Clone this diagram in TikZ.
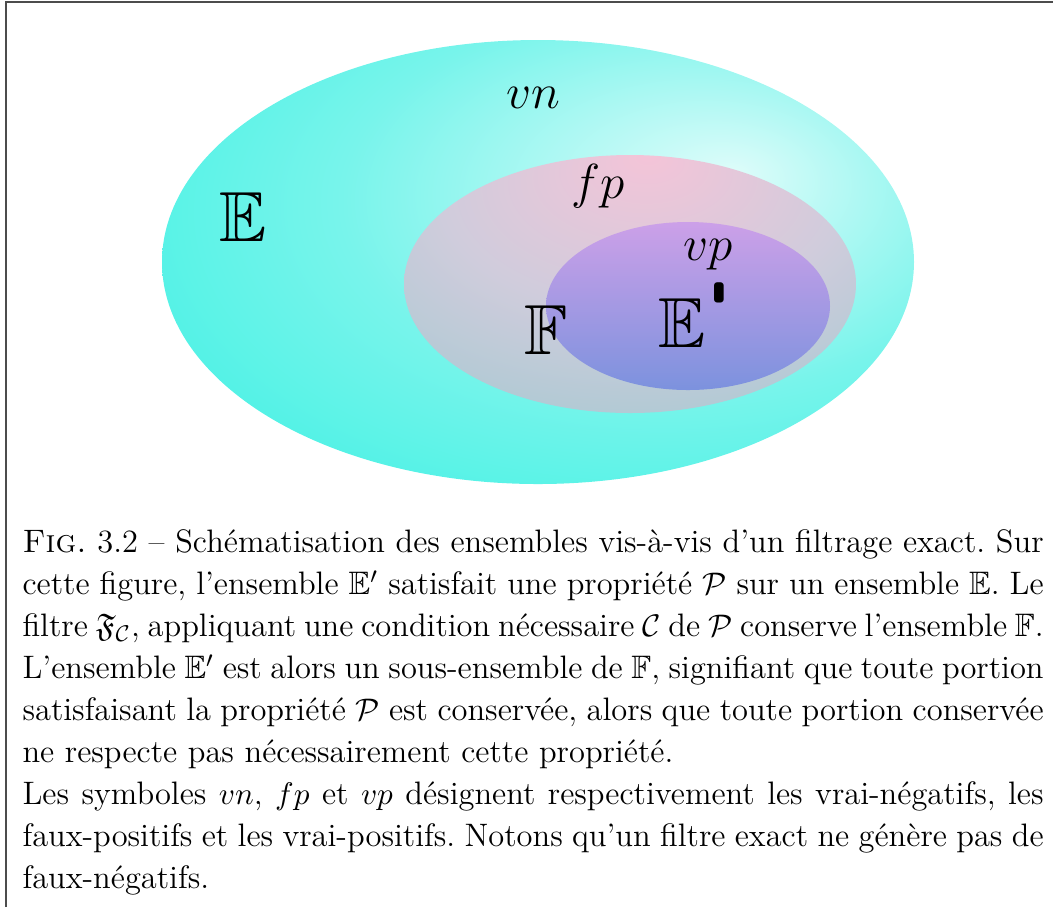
\documentclass[tikz,border=0pt]{standalone}
\usepackage{amssymb}
\usepackage{tikz}
\usetikzlibrary{shadings}

\definecolor{turcoaz}{RGB}{40,240,224}
\definecolor{turcoazmediu}{RGB}{120,244,235}
\definecolor{turcoazalb}{RGB}{222,252,250}
\definecolor{rozdeschis}{RGB}{244,196,216}
\definecolor{gricald}{RGB}{208,204,220}
\definecolor{griverzui}{RGB}{152,200,206}
\definecolor{violetdeschis}{RGB}{204,160,232}
\definecolor{albastruviolet}{RGB}{124,146,222}

\pgfdeclareradialshading{stralucireE}{\pgfpoint{13bp}{10bp}}{color(0bp)=(turcoazalb); color(22bp)=(turcoazmediu); color(48bp)=(turcoaz); color(70bp)=(turcoaz)}
\pgfdeclareradialshading{stralucireF}{\pgfpoint{2bp}{25bp}}{color(0bp)=(rozdeschis); color(22bp)=(gricald); color(50bp)=(griverzui); color(70bp)=(griverzui)}

\begin{document}
\begin{tikzpicture}[x=0.351pt, y=-0.351pt]
        \useasboundingbox (0,0) rectangle (1053,907);

        % Desenează chenarul.
        \draw[black!70, line width=0.6pt] (6,907) -- (6,2) -- (1053,2);

        % Desenează mulțimile.
        \shade[shading=stralucireE] (538,262) ellipse [x radius=376, y radius=222];
        \shade[shading=stralucireF] (630,284) ellipse [x radius=226, y radius=129];
        \shade[top color=violetdeschis, bottom color=albastruviolet]
            (688,306) ellipse [x radius=142, y radius=84];

        % Scrie etichetele.
        \tikzstyle{simbol} = [font=\LARGE, inner sep=0]
        \tikzstyle{litera} = [font=\Huge, inner sep=0]
        \node[simbol] (vn) at (533,98)  {$vn$};
        \node[simbol] (fp) at (598,186) {$fp$};
        \node[simbol] (vp) at (708,255) {$vp$};
        \node[litera] (E)  at (243,217) {$\mathbb{E}$};
        \node[litera] (F)  at (546,330) {$\mathbb{F}$};
        \node[litera, anchor=west] (Eprim) at (658,315)
            {$\mathbb{E}$\kern1pt\raisebox{5pt}{\sffamily\bfseries\textquotesingle}};

        % Scrie legenda.
        \tikzstyle{legenda} = [anchor=north west, inner sep=0, text width=358.4pt,
            align=justify, font=\fontsize{11.4}{14.74}\selectfont\frenchspacing]
        \node[legenda] (legenda) at (22,529) {%
            \textsc{Fig.} 3.2 -- Schématisation des ensembles vis-à-vis d'un filtrage exact. Sur\linebreak
            cette figure, l'ensemble $\mathbb{E}'$ satisfait une propriété $\mathcal{P}$ sur un ensemble $\mathbb{E}$. Le\linebreak
            filtre $\mathfrak{F}_{\mathcal{C}}$, appliquant une condition nécessaire $\mathcal{C}$ de $\mathcal{P}$ conserve l'ensemble $\mathbb{F}$.\linebreak
            L'ensemble $\mathbb{E}'$ est alors un sous-ensemble de $\mathbb{F}$, signifiant que toute portion\linebreak
            satisfaisant la propriété $\mathcal{P}$ est conservée, alors que toute portion conservée\linebreak
            ne respecte pas nécessairement cette propriété.\\
            Les symboles $vn$, $fp$ et $vp$ désignent respectivement les vrai-négatifs, les\linebreak
            faux-positifs et les vrai-positifs. Notons qu'un filtre exact ne génère pas de\linebreak
            faux-négatifs.};
\end{tikzpicture}
\end{document}
